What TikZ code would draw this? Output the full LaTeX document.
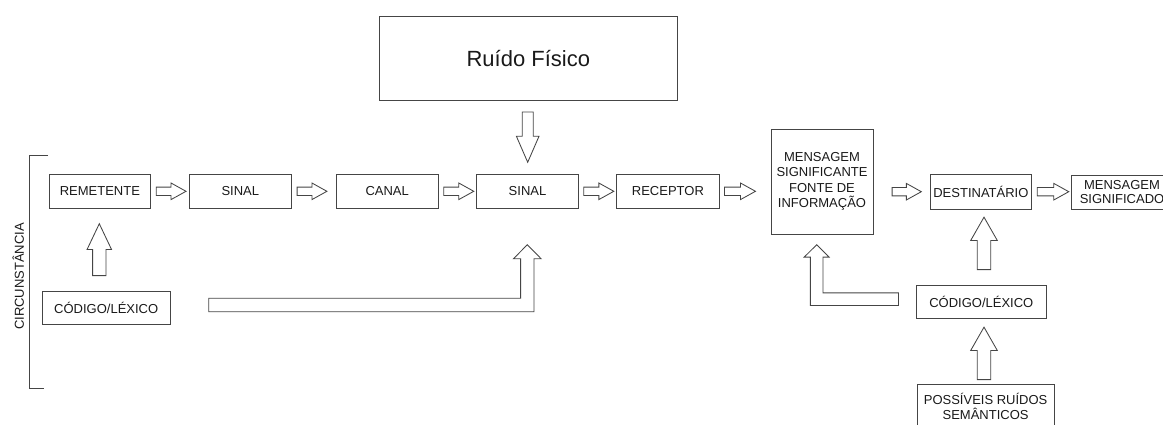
\documentclass[tikz,border=0pt]{standalone}
\usepackage{fontspec}
\setmainfont{Liberation Sans}
\usetikzlibrary{calc}
\definecolor{ln}{gray}{0.27}
\definecolor{tx}{gray}{0.1}
\tikzset{
  box/.style={draw=ln, line width=0.85pt, inner sep=0pt, text=tx,
    font=\fontsize{13}{15.5}\selectfont, align=center},
  blk/.style={draw=ln, line width=0.85pt, fill=white, line join=miter},
}
% horizontal hollow arrow from point #1 to tip point #2
\newcommand\harr[2]{\draw[blk] let \p1=#1, \p2=#2 in
  (\x1,\y1+4.2pt) -- (\x2-15pt,\y1+4.2pt) -- (\x2-15pt,\y1+8.3pt) -- (\x2,\y1)
  -- (\x2-15pt,\y1-8.3pt) -- (\x2-15pt,\y1-4.2pt) -- (\x1,\y1-4.2pt) -- cycle;}
% upward hollow arrow: #1 tip, #2 bottom, #3 shaft half, #4 head half, #5 head length
\newcommand\uarr[5]{\draw[blk] let \p1=#1, \p2=#2 in
  (\x1,\y1) -- (\x1+#4,\y1-#5) -- (\x1+#3,\y1-#5) -- (\x1+#3,\y2)
  -- (\x1-#3,\y2) -- (\x1-#3,\y1-#5) -- (\x1-#4,\y1-#5) -- cycle;}
% downward hollow arrow: #1 tip, #2 top
\newcommand\darr[5]{\draw[blk] let \p1=#1, \p2=#2 in
  (\x1,\y1) -- (\x1+#4,\y1+#5) -- (\x1+#3,\y1+#5) -- (\x1+#3,\y2)
  -- (\x1-#3,\y2) -- (\x1-#3,\y1+#5) -- (\x1-#4,\y1+#5) -- cycle;}
% L-shaped arrow, tail to the left
\newcommand\Larrl[5]{\draw[blk] let \p1=#1, \p2=#2 in
  (\x1,\y1) -- (\x1+#4,\y1-#5) -- (\x1+#3,\y1-#5) -- (\x1+#3,\y2-#3)
  -- (\x2,\y2-#3) -- (\x2,\y2+#3) -- (\x1-#3,\y2+#3) -- (\x1-#3,\y1-#5)
  -- (\x1-#4,\y1-#5) -- cycle;}
% L-shaped arrow, tail to the right
\newcommand\Larrr[5]{\draw[blk] let \p1=#1, \p2=#2 in
  (\x1,\y1) -- (\x1+#4,\y1-#5) -- (\x1+#3,\y1-#5) -- (\x1+#3,\y2+#3)
  -- (\x2,\y2+#3) -- (\x2,\y2-#3) -- (\x1-#3,\y2-#3) -- (\x1-#3,\y1-#5)
  -- (\x1-#4,\y1-#5) -- cycle;}
\begin{document}
\begin{tikzpicture}[x=1pt,y=-1pt]
\useasboundingbox (0,0) rectangle (1163,425);

% nodes
\node[box, minimum width=298pt, minimum height=84.7pt, font=\fontsize{22}{26}\selectfont] (ruido) at (528.3,58.3) {Ruído Físico};
\node[box, minimum width=101.7pt, minimum height=34pt] (rem)  at (99.9,191.3)  {REMETENTE};
\node[box, minimum width=102.7pt, minimum height=34pt] (sin1) at (240.3,191.3) {SINAL};
\node[box, minimum width=102.3pt, minimum height=34pt] (can)  at (387.2,191.3) {CANAL};
\node[box, minimum width=101.6pt, minimum height=34pt] (sin2) at (527.5,191.3) {SINAL};
\node[box, minimum width=102.3pt, minimum height=34pt] (rec)  at (667.9,191.3) {RECEPTOR};
\node[box, minimum width=102pt, minimum height=105pt] (mens) at (822,181.5)
  {MENSAGEM\\SIGNIFICANTE\\FONTE DE\\INFORMAÇÃO};
\node[box, minimum width=101.7pt, minimum height=34.7pt] (dest) at (980.9,191.7) {DESTINATÁRIO};
\node[box, minimum width=102pt, minimum height=34pt, font=\fontsize{13}{13.5}\selectfont] (msig) at (1122,192) {MENSAGEM\\SIGNIFICADO};
\node[box, minimum width=127.7pt, minimum height=32.6pt] (cod1) at (106.2,308) {CÓDIGO/LÉXICO};
\node[box, minimum width=130.7pt, minimum height=33.3pt] (cod2) at (981.3,301.7) {CÓDIGO/LÉXICO};
\node[box, minimum width=136.7pt, minimum height=44pt, font=\fontsize{13}{15}\selectfont] (poss) at (985.6,406.3) {POSSÍVEIS RUÍDOS\\SEMÂNTICOS};
\node[rotate=90, text=tx, inner sep=0pt, font=\fontsize{13}{15}\selectfont] (circ) at (18.3,276.5) {CIRCUNSTÂNCIA};

% bracket
\draw[ln, line width=0.85pt] (48,155) -- (29.3,155) -- (29.3,388) -- (44,388);

% horizontal arrows
\harr{($(rem.east)+(5,0)$)}{($(sin1.west)+(-2.5,0)$)}
\harr{($(sin1.east)+(5,0)$)}{($(can.west)+(-8.7,0)$)}
\harr{($(can.east)+(5,0)$)}{($(sin2.west)+(-2.5,0)$)}
\harr{($(sin2.east)+(5,0)$)}{($(rec.west)+(-2.5,0)$)}
\harr{($(rec.east)+(5,0)$)}{($(rec.east)+(36,0)$)}
\harr{($(mens.east |- dest.west)+(18.7,0)$)}{($(dest.west)+(-8.3,0)$)}
\harr{($(dest.east)+(5,0)$)}{($(dest.east |- msig.west)+(36.6,-0.5)$)}

% vertical arrows
\darr{($(sin2.north)+(0.2,-11.6)$)}{($(ruido.south)+(0,11)$)}{5.5pt}{11.3pt}{26pt}
\uarr{($(rem.south)+(-0.6,15)$)}{($(cod1.north)+(0,-15.7)$)}{6.7pt}{12.2pt}{25.7pt}
\uarr{($(dest.south)+(3.1,7.7)$)}{($(cod2.north)+(0,-15)$)}{6.7pt}{13.3pt}{23.3pt}
\uarr{($(cod2.south)+(2.7,8.4)$)}{($(poss.north)+(0,-4.3)$)}{6.7pt}{13.3pt}{23.3pt}

% L-shaped arrows
\coordinate (ltail) at ($(cod1.east)+(38.3,-3)$);
\Larrl{($(sin2.south)+(-0.2,36)$)}{(ltail)}{6.7pt}{13.8pt}{14pt}
\coordinate (rtail) at ($(cod2.west)+(-17,-2.5)$);
\Larrr{($(mens.south)+(-5.3,10.3)$)}{(rtail)}{6.35pt}{12.5pt}{12.4pt}
\end{tikzpicture}
\end{document}
